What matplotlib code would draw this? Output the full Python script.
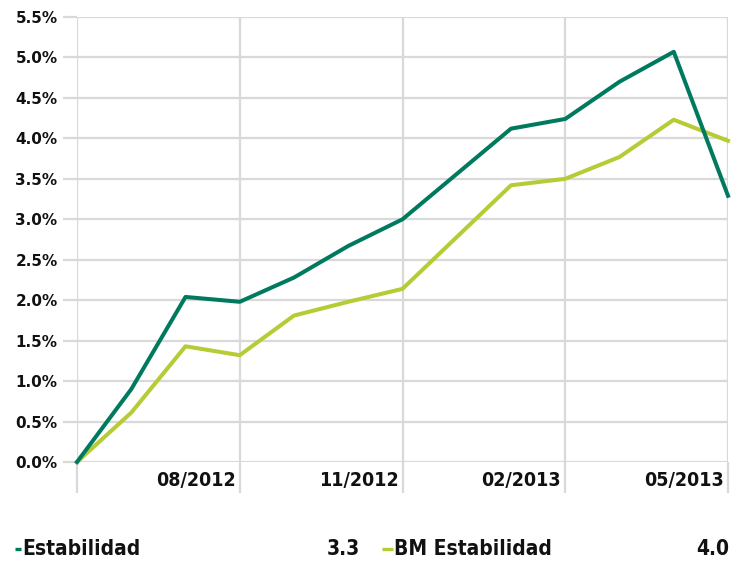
import numpy as np
import matplotlib
matplotlib.use("Agg")
import matplotlib.pyplot as plt
from matplotlib import transforms
from matplotlib.lines import Line2D

# monthly cumulative return (%), 05/2012 .. 05/2013
months = ["05/2012", "06/2012", "07/2012", "08/2012", "09/2012", "10/2012", "11/2012",
          "12/2012", "01/2013", "02/2013", "03/2013", "04/2013", "05/2013"]
estabilidad = [0.00, 0.90, 2.04, 1.98, 2.28, 2.67, 3.00, 3.56, 4.12, 4.24, 4.70, 5.07, 3.29]
bm_estabilidad = [0.00, 0.61, 1.43, 1.32, 1.81, 1.98, 2.14, 2.78, 3.42, 3.50, 3.77, 4.23, 3.97]
series_names = ["Estabilidad", "BM Estabilidad"]
yticks = np.arange(0, 5.51, 0.5)

DARK = "#007A5E"
LIGHT = "#B6CB34"
GRID = "#D9D9D9"
TXT = "#111111"

fig = plt.figure(figsize=(7.4, 5.61), dpi=100)
ax = fig.add_axes([77 / 740, 1 - 462 / 561, (728 - 77) / 740, (462 - 17) / 561])

x = np.arange(len(months))
ax.plot(x, estabilidad, color=DARK, lw=2.9, zorder=3, clip_on=False)
ax.plot(x, bm_estabilidad, color=LIGHT, lw=2.9, zorder=2, clip_on=False)

ax.set_xlim(0, len(months) - 1)
ax.set_ylim(0, 5.5)
for s in ax.spines.values():
    s.set_visible(False)

ax.set_yticks(yticks)
ax.set_yticklabels([f"{v:.1f}%" for v in yticks], fontsize=11, family="DejaVu Sans",
                   weight="bold", color=TXT)
ax.tick_params(axis="y", length=10, color=GRID, width=1.6, pad=4)

tick_idx = [0, 3, 6, 9, 12]
ax.set_xticks(tick_idx)
ax.set_xticklabels([])
ax.tick_params(axis="x", length=22, color=GRID, width=1.6)
ax.grid(True, color=GRID, lw=1.6, zorder=0)
ax.set_axisbelow(True)

blend = transforms.blended_transform_factory(ax.transData, ax.transAxes)
for i in tick_idx[1:]:
    tr = transforms.offset_copy(blend, fig=fig, x=-4, y=-19, units="dots")
    ax.text(i, 0, months[i], transform=tr, ha="right", va="center", fontsize=14,
            family="DejaVu Sans", stretch="condensed", weight="bold", color=TXT)

# legend row
vals = [estabilidad[-1], bm_estabilidad[-1]]
cols = [DARK, LIGHT]
dash_x = [(15, 21), (382, 393)]
ends = [360, 729]
ly = 1 - 549 / 561
for name, v, c, (d0, d1), x1 in zip(series_names, vals, cols, dash_x, ends):
    fig.add_artist(Line2D([d0 / 740, d1 / 740], [ly, ly], color=c, lw=2.4,
                          solid_capstyle="butt", transform=fig.transFigure))
    fig.text((d1 + 1) / 740, ly, name, ha="left", va="center", fontsize=15,
             family="DejaVu Sans", stretch="condensed", weight="bold", color=TXT)
    fig.text(x1 / 740, ly, f"{v:.1f}", ha="right", va="center", fontsize=15,
             family="DejaVu Sans", stretch="condensed", weight="bold", color=TXT)

fig.savefig("out.png", dpi=100, facecolor="white")
